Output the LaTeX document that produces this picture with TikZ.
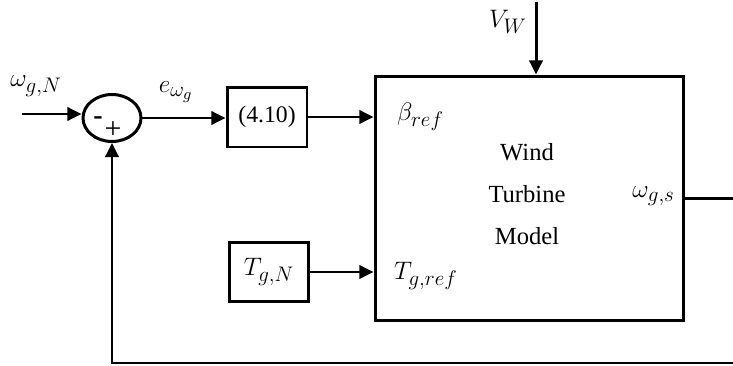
\documentclass[tikz,border=0pt]{standalone}
\usepackage{amsmath}
\usepackage{fontspec}
\setmainfont{Liberation Serif}
\DeclareMathSizes{13.5}{15}{11.5}{9}
\usepackage{tikz}
\usetikzlibrary{shapes.geometric, arrows.meta, positioning, calc}
\tikzset{
	blk/.style ={rectangle, draw=black, line width=1.7pt, align=center, inner sep=0pt},
	sumc/.style={ellipse, draw=black, line width=1.7pt, minimum width=1.16cm, minimum height=0.94cm, inner sep=0pt},
	sig/.style ={-{Triangle[length=8pt, width=7.5pt]}, line width=1.7pt},
	lbl/.style ={inner sep=1pt},
}

\begin{document}
\begin{tikzpicture}[x=0.02cm, y=-0.02cm, font=\fontsize{13.5}{16}\selectfont]
	\useasboundingbox (0,0) rectangle (733,365);
	% summing junction and reference path
	\coordinate (win) at (22,114);
	\node[sumc] (sum) at (112,118) {};
	\node[lbl] (wn) at (36,86) {$\omega_{g,N}$};
	\node[lbl, font=\fontsize{16}{18}\bfseries] (mn) at (98,121) {-};
	\node[lbl, font=\fontsize{17}{18}\selectfont] (pl) at (113,130) {+};
	\node[blk, minimum width=1.6cm, minimum height=1.2cm] (eq) at (267,117) {(4.10)};
	\node[lbl] (err) at (176,92) {$e_{\omega_g}$};
	\node[blk, minimum width=1.58cm, minimum height=1.18cm] (tgn) at (269,272) {$T_{g,N}$};
	% plant
	\node[blk, minimum width=6.18cm, minimum height=4.9cm] (wtm) at (529.5,198.5) {};
	\node[align=center, font=\fontsize{14}{24}\selectfont] (txt) at (527,194) {Wind\\Turbine\\Model};
	\node[lbl, right] (bref) at (395,117) {$\beta_{ref}$};
	\node[lbl, right] (tref) at (392,276) {$T_{g,ref}$};
	\node[lbl, left] (ws) at (677,196) {$\omega_{g,s}$};
	\coordinate (vin) at (536,2);
	\node[lbl] (vw) at (508,22) {$V_W$};
	% connections
	\draw[sig] (win) -- (sum.west |- win);
	\draw[sig] (sum.east) -- (sum.east -| eq.west);
	\draw[sig] (eq.east) -- (eq.east -| wtm.west);
	\draw[sig] (tgn.east) -- (tgn.east -| wtm.west);
	\draw[sig] (vin) -- (vin |- wtm.north);
	\coordinate (fb) at (737,363);
	\draw[sig] (wtm.east) -| (fb) -| (sum.south);
\end{tikzpicture}
\end{document}
